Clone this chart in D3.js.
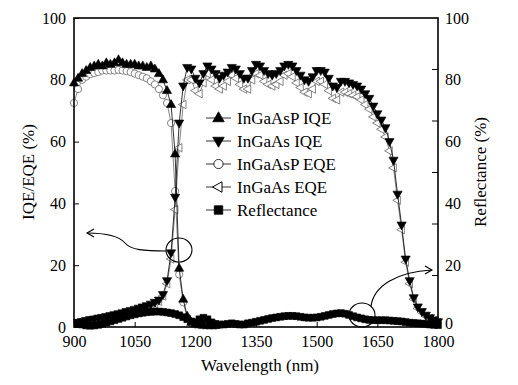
<!DOCTYPE html>
<html>
<head>
<meta charset="utf-8">
<script src="https://cdn.jsdelivr.net/npm/d3@7"></script>
<style>
    html, body { margin: 0; padding: 0; background: #fff; }
    svg { display: block; }
    .axis path, .axis line { stroke: #000; }
</style>
</head>
<body>
<svg id="chart" width="518" height="385"></svg>
<script>
(function(){
    'use strict';

    var SERIF = '"Liberation Serif", "Times New Roman", Times, serif';

    /*******************************************************************
     *                              DATA                               *
     *******************************************************************/

    //InGaAsP cell is measured 900-1250 nm, the InGaAs cell 910-1800 nm (10 nm steps)
    var wlInGaAsP = d3.range(900, 1251, 10);
    var wlInGaAs  = d3.range(910, 1801, 10);

    var inGaAsPIqe = [
        79, 80.5, 82, 83, 84, 84.5, 85, 84.5, 85.5, 85,
        85.5, 86.5, 85.5, 85, 85, 85, 84.5, 84.5, 84, 84.5,
        83.5, 82, 80, 76.5, 72, 56, 19, 9, 3.5, 1.5,
        1, 0.8, 0.6, 0.5, 0.5, 0.5
    ];

    var inGaAsPEqe = [
        72.5, 77, 80, 81, 81.8, 82.2, 82.5, 83, 83, 83,
        83, 83.2, 83, 82.8, 82.5, 82, 81.5, 81, 80.5, 79.5,
        78.5, 77, 75, 72.5, 66, 44, 17, 8, 3, 1.2,
        0.8, 0.6, 0.5, 0.4, 0.4, 0.4
    ];

    var inGaAsIqe = [
        1.5, 1.8, 2.1, 2.4, 2.6, 2.9, 3.1, 3.4, 3.7, 4.0,
        4.3, 4.6, 5.0, 5.3, 5.7, 6.1, 6.5, 6.9, 7.4, 8.0,
        8.7, 10.5, 15, 24, 42, 66, 78, 84, 83.5, 80.5,
        79, 82, 84.5, 83.5, 82, 80.5, 81.5, 82.5, 84, 83.5,
        82, 80.5, 80.5, 83, 85, 84.5, 83, 82, 81.5, 82,
        83, 84.5, 85, 84.5, 83, 81.5, 80, 79.5, 81, 83,
        83, 82.5, 80.5, 78, 77.5, 79.5, 79.5, 79, 78.5, 78,
        77, 75.5, 74, 71.5, 69, 67, 64.5, 60, 54, 43,
        33, 22, 15, 9.5, 6.5, 5, 3.8, 3, 2.3, 1.7
    ];

    var inGaAsEqe = [
        1.4, 1.7, 2.0, 2.2, 2.4, 2.7, 2.9, 3.2, 3.5, 3.8,
        4.1, 4.4, 4.7, 5.0, 5.4, 5.8, 6.2, 6.6, 7.0, 7.6,
        8.3, 10, 14, 22, 38, 58, 72, 80, 80, 76.5,
        75.5, 79, 82, 80, 78, 77, 78, 79.5, 81.5, 80.5,
        78.5, 77, 77, 80, 82, 81.5, 79.5, 78.5, 78, 78.5,
        79.5, 81.5, 82, 81, 79, 77.5, 76, 75.5, 77, 79.5,
        79.5, 78.5, 76.5, 74, 73.5, 76, 76, 75.5, 75, 74.5,
        73.5, 72, 70.5, 68, 66, 64, 61.5, 57, 51.5, 41,
        31.5, 21, 14, 9, 6, 4.7, 3.5, 2.8, 2.1, 1.5
    ];

    var reflectance = [
        1.2, 0.8, 0.5, 0.4, 0.5, 0.7, 1.0, 1.4, 1.8, 2.2,
        2.6, 3.0, 3.4, 3.8, 4.1, 4.4, 4.6, 4.8, 4.9, 5.0,
        5.0, 4.9, 4.7, 4.5, 4.2, 3.8, 3.2, 2.5, 1.8, 1.5,
        2.5, 3.0, 2.5, 1.5, 1.0, 0.8, 0.8, 1.0, 1.2, 1.0,
        0.8, 0.8, 1.2, 1.4, 1.7, 2.0, 2.3, 2.6, 2.9, 3.1,
        3.3, 3.5, 3.6, 3.6, 3.5, 3.3, 3.1, 3.0, 3.0, 3.1,
        3.3, 3.6, 3.9, 4.2, 4.4, 4.5, 4.3, 3.9, 3.5, 3.1,
        2.8, 2.5, 2.3, 2.2, 2.2, 2.2, 2.2, 2.1, 2.0, 1.9,
        1.8, 1.6, 1.4, 1.3, 1.2, 1.1, 1.0, 0.8, 0.7, 0.6
    ];

    var xTicks = [900, 1050, 1200, 1350, 1500, 1650, 1800];
    var yTicks = [0, 20, 40, 60, 80, 100];
    //right axis carries its tick marks on sixths, labels on the 20s
    var rightMarks = [100/6, 200/6, 300/6, 400/6, 500/6];

    var legendNames = ['InGaAsP IQE', 'InGaAs IQE', 'InGaAsP EQE', 'InGaAs EQE', 'Reflectance'];

    /*******************************************************************
     *                           LAYOUT                                *
     *******************************************************************/

    var plot = { left: 74, right: 438, top: 18, bottom: 327 };

    var svg = d3.select('#chart');

    var xScale = d3.scaleLinear().domain([900, 1800]).range([plot.left, plot.right]);
    var yScale = d3.scaleLinear().domain([0, 100]).range([plot.bottom, plot.top]);

    //marker shapes
    var shapes = {
        up:    'M0,-5L4.6,3L-4.6,3Z',
        down:  'M0,5L4.6,-3L-4.6,-3Z',
        left:  'M-4.8,0L2.8,-4.2L2.8,4.2Z',
        square:'M-3.4,-3.4H3.4V3.4H-3.4Z'
    };

    var series = [
        { name: legendNames[2], wl: wlInGaAsP, values: inGaAsPEqe, shape: 'circle', fill: '#fff', stroke: '#666', sw: 0.8 },
        { name: legendNames[3], wl: wlInGaAs,  values: inGaAsEqe,  shape: 'left',   fill: '#fff', stroke: '#666', sw: 0.8 },
        { name: legendNames[0], wl: wlInGaAsP, values: inGaAsPIqe, shape: 'up',     fill: '#000', stroke: '#000', sw: 0.6 },
        { name: legendNames[1], wl: wlInGaAs,  values: inGaAsIqe,  shape: 'down',   fill: '#000', stroke: '#000', sw: 0.6 },
        { name: legendNames[4], wl: wlInGaAs,  values: reflectance, shape: 'square', fill: '#000', stroke: '#000', sw: 0.6, line: 3 }
    ];

    /*******************************************************************
     *                           DRAWING                               *
     *******************************************************************/

    function drawMarker(g, s, x, y) {
        if (s.shape === 'circle') {
            return g.append('circle').attr('cx', x).attr('cy', y).attr('r', 3.6)
                .attr('fill', s.fill).attr('stroke', s.stroke).attr('stroke-width', s.sw);
        }
        return g.append('path').attr('d', shapes[s.shape])
            .attr('transform', 'translate(' + x + ',' + y + ')')
            .attr('fill', s.fill).attr('stroke', s.stroke).attr('stroke-width', s.sw);
    }

    function drawSeries() {
        var line = d3.line()
            .x(function(d) { return xScale(d[0]); })
            .y(function(d) { return yScale(d[1]); });

        series.forEach(function(s) {
            var pts = s.wl.map(function(w, i) { return [w, s.values[i]]; });
            var g = svg.append('g').attr('class', 'series');

            g.append('path')
                .attr('d', line(pts))
                .attr('fill', 'none')
                .attr('stroke', s.stroke)
                .attr('stroke-width', s.line || 0.8);

            pts.forEach(function(p) {
                drawMarker(g, s, xScale(p[0]), yScale(p[1]));
            });
        });
    }

    function drawAxes() {
        //bottom axis, ticks pointing inward
        svg.append('g')
            .attr('class', 'x axis')
            .attr('transform', 'translate(0,' + plot.bottom + ')')
            .call(d3.axisBottom(xScale).tickValues(xTicks).tickFormat(d3.format('d'))
                .tickSizeInner(-5).tickSizeOuter(0).tickPadding(9));

        //left axis
        svg.append('g')
            .attr('class', 'y axis')
            .attr('transform', 'translate(' + plot.left + ',0)')
            .call(d3.axisLeft(yScale).tickValues(yTicks).tickSizeInner(-5).tickSizeOuter(0).tickPadding(8));

        //right axis: labels only, then its own tick marks
        var right = svg.append('g')
            .attr('class', 'y2 axis')
            .attr('transform', 'translate(' + plot.right + ',0)')
            .call(d3.axisRight(yScale).tickValues(yTicks).tickSize(0).tickPadding(7));
        right.selectAll('.tick line').remove();
        //the bottom "0" sits just above the 1800 label
        right.selectAll('.tick text').filter(function(d) { return d === 0; }).attr('dy', '0.1em');

        right.selectAll('line.mark')
            .data(rightMarks)
            .enter()
            .append('line')
            .attr('class', 'mark')
            .attr('x1', 0).attr('x2', -6)
            .attr('y1', function(d) { return yScale(d); })
            .attr('y2', function(d) { return yScale(d); })
            .attr('stroke', '#000');

        svg.selectAll('.axis')
            .attr('font-family', SERIF)
            .attr('font-size', 16);
        svg.selectAll('.axis text')
            .style('font-family', SERIF)
            .style('font-size', '16px')
            .attr('fill', '#000');

        //frame
        svg.append('rect')
            .attr('x', plot.left).attr('y', plot.top)
            .attr('width', plot.right - plot.left)
            .attr('height', plot.bottom - plot.top)
            .attr('fill', 'none')
            .attr('stroke', '#000')
            .attr('stroke-width', 1.6);

        svg.selectAll('.axis path.domain').remove();

        //axis titles
        svg.append('text')
            .attr('transform', 'translate(' + 34 + ',' + 172 + ') rotate(-90)')
            .attr('text-anchor', 'middle')
            .style('font-family', SERIF)
            .style('font-size', '17px')
            .text('IQE/EQE (%)');

        svg.append('text')
            .attr('transform', 'translate(' + 486 + ',' + 172 + ') rotate(-90)')
            .attr('text-anchor', 'middle')
            .style('font-family', SERIF)
            .style('font-size', '17px')
            .text('Reflectance (%)');

        svg.append('text')
            .attr('x', (plot.left + plot.right) / 2 + 4)
            .attr('y', 371)
            .attr('text-anchor', 'middle')
            .style('font-family', SERIF)
            .style('font-size', '17px')
            .text('Wavelength (nm)');
    }

    function drawLegend() {
        var order = [2, 3, 0, 1, 4]; // series index for each legend row
        var rowY = d3.scaleLinear().domain([0, 4]).range([118, 210]);

        order.forEach(function(si, row) {
            var s = series[si];
            var y = rowY(row);
            var g = svg.append('g').attr('class', 'legend');
            g.append('line')
                .attr('x1', 206).attr('x2', 231)
                .attr('y1', y).attr('y2', y)
                .attr('stroke', '#000').attr('stroke-width', 0.8);
            var m = drawMarker(g, s, 218.5, y);
            m.attr('stroke', s.fill === '#fff' ? '#000' : s.stroke);
            if (s.shape !== 'circle') {
                m.attr('transform', 'translate(218.5,' + y + ') scale(1.25)');
            } else {
                m.attr('r', 4.6);
            }
            g.append('text')
                .attr('x', 237)
                .attr('y', y + 6)
                .style('font-family', SERIF)
                .style('font-size', '17px')
                .text(s.name);
        });
    }

    function drawAnnotations() {
        var ann = svg.append('g').attr('class', 'annotation')
            .attr('fill', 'none').attr('stroke', '#000').attr('stroke-width', 1.1);

        //circle on the crossover, arrow to the left axis
        ann.append('ellipse').attr('cx', 179).attr('cy', 250).attr('rx', 13).attr('ry', 12);
        ann.append('path').attr('d', 'M166,251 C144,251 131,250 125,243 C119,236 106,233 87,233');
        ann.append('path').attr('d', 'M94,229 L87,233 L94,237');

        //circle on reflectance, arrow to the right axis
        ann.append('ellipse').attr('cx', 362).attr('cy', 315).attr('rx', 13).attr('ry', 12);
        ann.append('path').attr('d', 'M371,306 C374,286 396,272 432,270');
        ann.append('path').attr('d', 'M425,266 L432,270 L425,274');
    }

    drawSeries();
    drawAxes();
    drawLegend();
    drawAnnotations();
})();
</script>
</body>
</html>
